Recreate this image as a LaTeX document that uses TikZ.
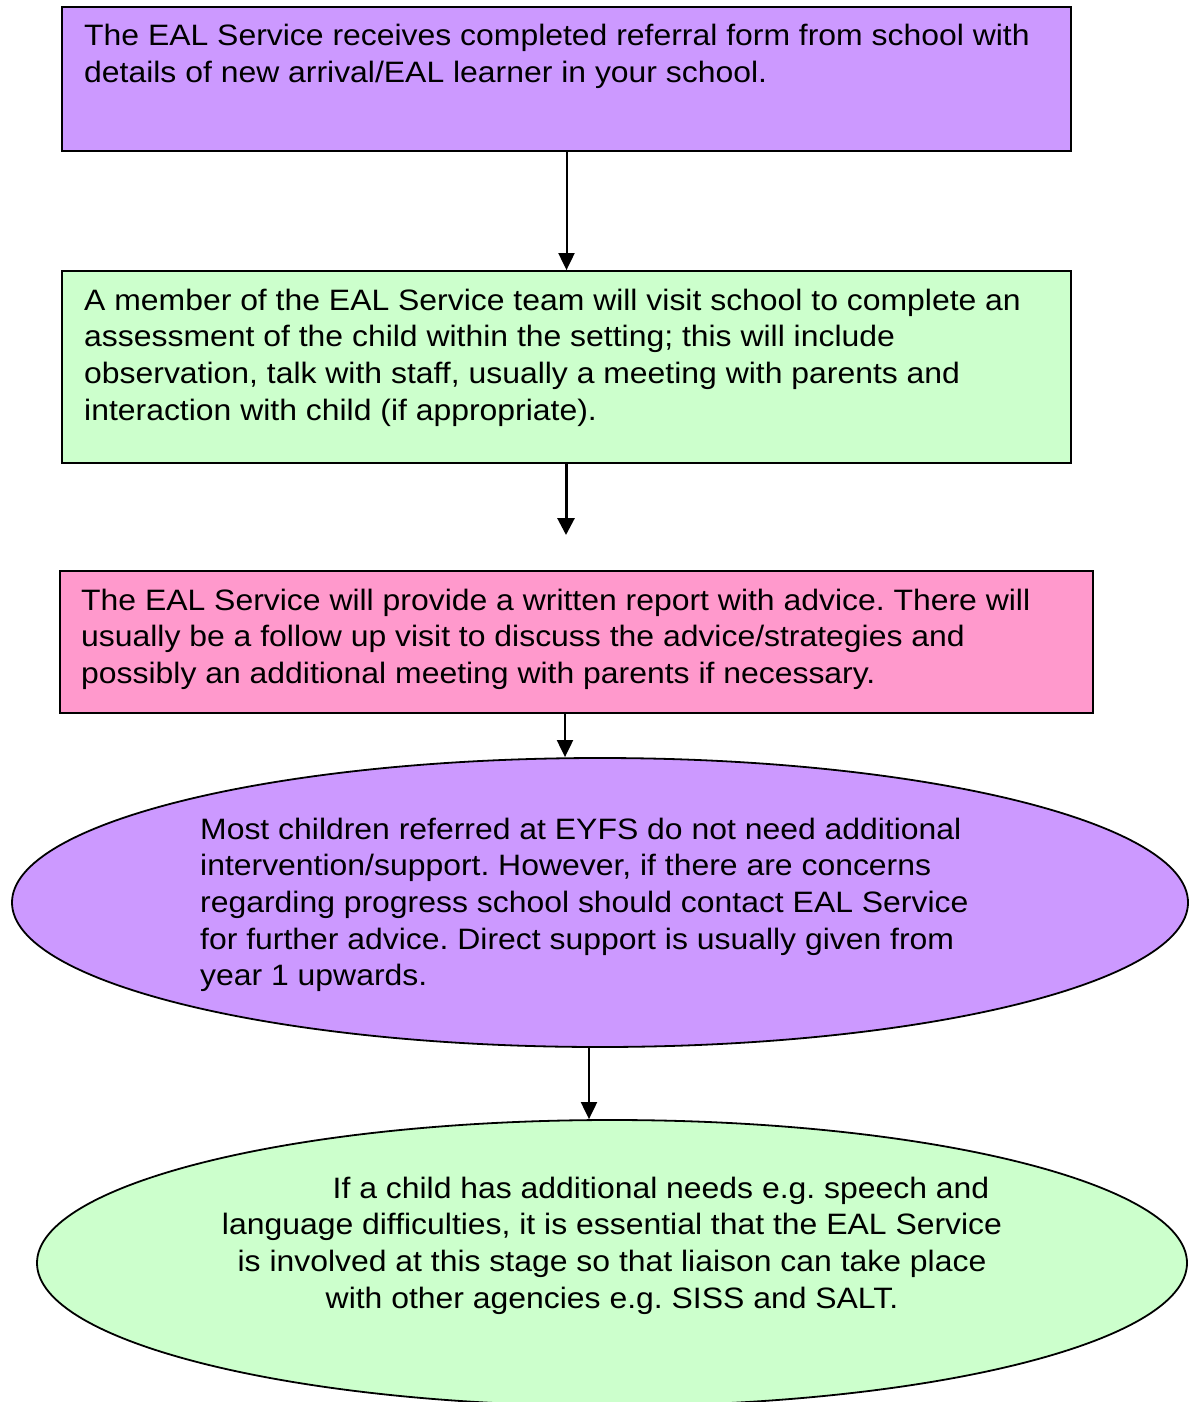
\documentclass[tikz,border=0pt]{standalone}
\usepackage{fontspec}
\setmainfont[FakeStretch=1.082]{Liberation Sans}
\usetikzlibrary{arrows.meta,shapes.geometric}
\definecolor{cpurple}{HTML}{CC99FF}
\definecolor{cgreen}{HTML}{CCFFCC}
\definecolor{cpink}{HTML}{FF99CC}
\tikzset{
  box/.style={draw=black, line width=1.8pt, rectangle, inner sep=0pt},
  oval/.style={draw=black, line width=1.8pt, ellipse, inner sep=0pt},
  txt/.style={inner sep=0pt, anchor=base west, font=\fontsize{29.5}{36.7}\selectfont},
  ctxt/.style={inner sep=0pt, anchor=base, font=\fontsize{29.5}{36.7}\selectfont},
  conn/.style={line width=2pt, -{Triangle[width=16pt,length=17pt]}},
  thickconn/.style={line width=3pt, -{Triangle[width=17pt,length=17pt]}}
}
\frenchspacing
\begin{document}
\frenchspacing
\begin{tikzpicture}[x=1pt,y=-1pt]
\useasboundingbox (0,0) rectangle (1188,1402);
\node[box, fill=cpurple, minimum width=1009pt, minimum height=144pt] (b1) at (566.5,79) {};
\node[box, fill=cgreen, minimum width=1009pt, minimum height=192pt] (b2) at (566.5,367) {};
\node[box, fill=cpink, minimum width=1033pt, minimum height=142pt] (b3) at (576.5,642) {};
\node[oval, fill=cpurple, minimum width=1176pt, minimum height=289pt] (e1) at (600,902.5) {};
\node[oval, fill=cgreen, minimum width=1150pt, minimum height=286pt] (e2) at (612,1263) {};

\node[txt] (t1) at (84,46) {\parbox[t]{1100pt}{\raggedright The EAL Service receives completed referral form from school with\\details of new arrival/EAL learner in your school.}};
\node[txt] (t2) at (84,310) {\parbox[t]{1100pt}{\raggedright A member of the EAL Service team will visit school to complete an\\assessment of the child within the setting; this will include\\observation, talk with staff, usually a meeting with parents and\\interaction with child (if appropriate).}};
\node[txt] (t3) at (81,610) {\parbox[t]{1100pt}{\raggedright The EAL Service will provide a written report with advice. There will\\usually be a follow up visit to discuss the advice/strategies and\\possibly an additional meeting with parents if necessary.}};
\node[txt] (t4) at (200,839) {\parbox[t]{980pt}{\raggedright Most children referred at EYFS do not need additional\\intervention/support. However, if there are concerns\\regarding progress school should contact EAL Service\\for further advice. Direct support is usually given from\\year 1 upwards.}};
\node[ctxt] (t5) at (612,1198) {\parbox[t]{1100pt}{\centering\hspace*{98pt}If a child has additional needs e.g. speech and\\language difficulties, it is essential that the EAL Service\\is involved at this stage so that liaison can take place\\with other agencies e.g. SISS and SALT.}};

\coordinate (a2end) at (566,535);
\draw[conn] (b1.south) -- (b2.north);
\draw[thickconn] ([xshift=-0.5pt]b2.south) -- (a2end);
\draw[conn] ([xshift=-11.5pt]b3.south) -- ([xshift=-11.5pt]b3.south |- e1.north);
\draw[conn] ([xshift=-11pt]e1.south) -- ([xshift=-11pt]e1.south |- e2.north);
\end{tikzpicture}
\end{document}
